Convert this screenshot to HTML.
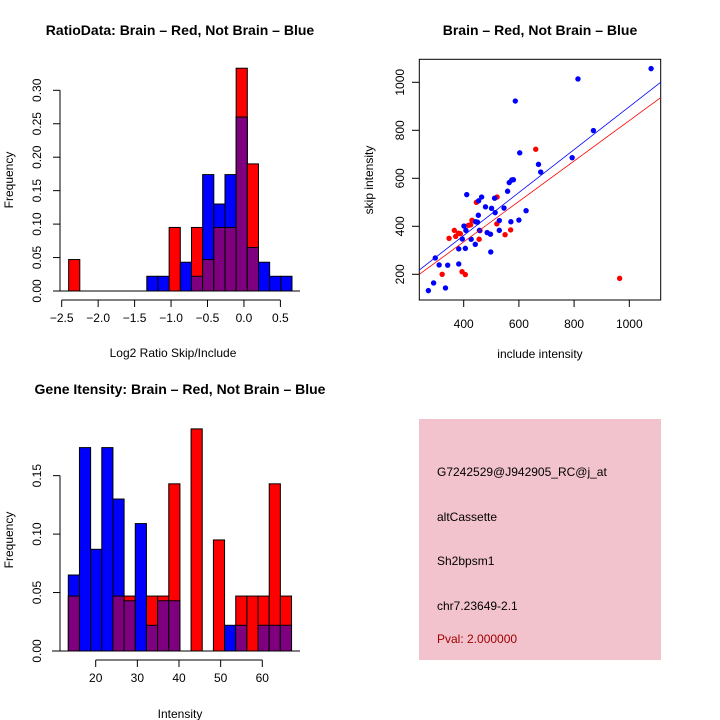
<!DOCTYPE html>
<html><head><meta charset="utf-8"><style>
body{margin:0;background:#fff}
svg{display:block;font-family:"Liberation Sans",sans-serif}
</style></head><body>
<svg id="s" width="720" height="720" viewBox="0 0 720 720">
<rect width="720" height="720" fill="#fff"/>
<text x="180" y="35" text-anchor="middle" font-weight="bold" font-size="14">RatioData: Brain – Red, Not Brain – Blue</text>
<text x="540" y="35" text-anchor="middle" font-weight="bold" font-size="14">Brain – Red, Not Brain – Blue</text>
<text x="180" y="394" text-anchor="middle" font-weight="bold" font-size="14">Gene Itensity: Brain – Red, Not Brain – Blue</text>
<text x="173" y="357" text-anchor="middle" font-size="12">Log2 Ratio Skip/Include</text>
<text transform="translate(13,180) rotate(-90)" text-anchor="middle" font-size="12">Frequency</text>
<text x="180" y="718" text-anchor="middle" font-size="12">Intensity</text>
<text transform="translate(13,540) rotate(-90)" text-anchor="middle" font-size="12">Frequency</text>
<text x="540" y="358" text-anchor="middle" font-size="12">include intensity</text>
<text transform="translate(373,180) rotate(-90)" text-anchor="middle" font-size="12">skip intensity</text>
<g>
<rect x="419" y="419" width="242" height="241" fill="#f2c2cd"/>
<text x="437" y="476" font-size="12">G7242529@J942905_RC@j_at</text>
<text x="437" y="521" font-size="12">altCassette</text>
<text x="437" y="565" font-size="12">Sh2bpsm1</text>
<text x="437" y="610" font-size="12">chr7.23649-2.1</text>
<text x="437" y="643" font-size="12" fill="#a00000">Pval: 2.000000</text>
</g>
</svg>
<script>
const ratioStart=-2.405, ratioBinW=0.1532;
const ratioRed=[0.047,0,0,0,0,0,0,0,0,0.095,0,0.095,0.047,0.095,0.095,0.333,0.19,0,0,0];
const ratioBlue=[0,0,0,0,0,0,0,0.022,0.022,0,0.043,0.022,0.174,0.130,0.174,0.26,0.065,0.043,0.022,0.022];
const ratioXTicks=[-2.5,-2.0,-1.5,-1.0,-0.5,0.0,0.5];
const ratioXLabels=["-2.5","-2.0","-1.5","-1.0","-0.5","0.0","0.5"];
const ratioYTicks=[0,0.05,0.10,0.15,0.20,0.25,0.30];
const ratioYLabels=["0.00","0.05","0.10","0.15","0.20","0.25","0.30"];

const intStart=13.42, intBinW=2.68;
const intRed=[0.047,0,0,0,0.047,0.047,0,0.047,0.047,0.143,0,0.19,0,0.095,0,0.047,0.047,0.047,0.143,0.047];
const intBlue=[0.065,0.174,0.087,0.174,0.130,0.043,0.109,0.022,0.043,0.043,0,0,0,0,0.022,0.022,0,0.022,0.022,0.022];
const intXTicks=[20,30,40,50,60];
const intYTicks=[0,0.05,0.10,0.15];
const intYLabels=["0.00","0.05","0.10","0.15"];

const blueX=[272,291,297,311,334,342,382,382,395,401,406,408,411,427,442,443,450,453,454,457,465,479,485,497,498,501,512,514,529,529,546,559,565,574,580,571,587,600,603,626,671,679,793,814,870,1079];
const blueY=[132,164,268,239,143,238,243,306,347,401,308,383,532,346,325,419,417,446,506,383,522,481,374,367,293,475,517,457,424,383,476,546,582,593,594,419,922,426,706,465,658,626,686,1014,799,1057];
const redX=[322,347,366,371,381,388,394,406,417,425,430,446,456,521,520,550,570,661,965,459];
const redY=[200,350,383,358,371,369,211,199,404,406,425,500,346,522,410,365,385,721,183,382];
const blueFit=[3.8,0.8947];
const redFit=[-1.6,0.842];
const scatXTicks=[400,600,800,1000];
const scatYTicks=[200,400,600,800,1000];

const NS="http://www.w3.org/2000/svg";
const svg=document.getElementById('s');
function mk(tag,attrs,parent){const e=document.createElementNS(NS,tag);for(const k in attrs)e.setAttribute(k,attrs[k]);(parent||svg).appendChild(e);return e;}

function hist(name,start,bw,red,blue,sx,sy,xt,xl,yt,yl,xAxisY,baseL){
  const g=mk('g',{});
  
  
  for(let i=0;i<red.length;i++){
    const x0=sx(start+i*bw),x1=sx(start+(i+1)*bw);
    const r=red[i],b=blue[i];
    const hi=Math.max(r,b),lo=Math.min(r,b);
    if(hi<=0)continue;
    const big=mk('rect',{x:x0,y:sy(hi),width:x1-x0,height:sy(0)-sy(hi),fill:r>=b?'#ff0000':'#0000ff',stroke:'#000','stroke-width':1},g);
    
    
    if(lo>0){
      const p=mk('rect',{x:x0,y:sy(lo),width:x1-x0,height:sy(0)-sy(lo),fill:'#7f007f',stroke:'#000','stroke-width':1},g);
      
      
    }
  }
  mk('line',{x1:baseL,x2:300,y1:sy(0),y2:sy(0),stroke:'#000'},g);
  const xa=mk('g',{},g);
  
  
  mk('line',{x1:sx(xt[0]),x2:sx(xt[xt.length-1]),y1:xAxisY,y2:xAxisY,stroke:'#000'},xa);
  xt.forEach((v,i)=>{mk('line',{x1:sx(v),x2:sx(v),y1:xAxisY,y2:xAxisY+7,stroke:'#000'},xa);
    const t=mk('text',{x:sx(v),y:xAxisY+22,'text-anchor':'middle','font-size':12},xa);t.textContent=xl[i].replace('-','\u2212');});
  const ya=mk('g',{},g);
  
  
  mk('line',{x1:60,x2:60,y1:sy(yt[0]),y2:sy(yt[yt.length-1]),stroke:'#000'},ya);
  yt.forEach((v,i)=>{mk('line',{x1:53,x2:60,y1:sy(v),y2:sy(v),stroke:'#000'},ya);
    const t=mk('text',{transform:`translate(41,${sy(v)}) rotate(-90)`,'text-anchor':'middle','font-size':12},ya);t.textContent=yl[i];});
}
hist('ratio',ratioStart,ratioBinW,ratioRed,ratioBlue,v=>61.7+(v+2.5)*72.9,v=>291-v*669,ratioXTicks,ratioXLabels,ratioYTicks,ratioYLabels,300,60);
hist('intensity',intStart,intBinW,intRed,intBlue,v=>95.7+(v-20)*4.165,v=>651-v*1169,intXTicks,intXTicks.map(String),intYTicks,intYLabels,660,52);

const SX=v=>463.7+(v-400)*0.276, SY=v=>274.3-(v-200)*0.24;
const sg=mk('g',{});


mk('rect',{x:419.3,y:59.3,width:241.4,height:240.7,fill:'none',stroke:'#000'},sg);
redX.forEach((x,i)=>{const c=mk('circle',{cx:SX(x),cy:SY(redY[i]),r:2.7,fill:'#ff0000'},sg);
  
  });
blueX.forEach((x,i)=>{const c=mk('circle',{cx:SX(x),cy:SY(blueY[i]),r:2.7,fill:'#0000ff'},sg);
  
  });
const xl0=239.4,xl1=1113.5;
[[blueFit,'#0000ff','blue-fit-line'],[redFit,'#ff0000','red-fit-line']].forEach(([f,c,n])=>{
  const l=mk('line',{x1:SX(xl0),y1:SY(f[0]+f[1]*xl0),x2:SX(xl1),y2:SY(f[0]+f[1]*xl1),stroke:c,'stroke-width':0.8},sg);
  
  
});
const sxa=mk('g',{},sg);


scatXTicks.forEach(v=>{mk('line',{x1:SX(v),x2:SX(v),y1:300,y2:307,stroke:'#000'},sxa);
  const t=mk('text',{x:SX(v),y:328,'text-anchor':'middle','font-size':12},sxa);t.textContent=v;});
const sya=mk('g',{},sg);


scatYTicks.forEach(v=>{mk('line',{x1:412,x2:419.3,y1:SY(v),y2:SY(v),stroke:'#000'},sya);
  const t=mk('text',{transform:`translate(404,${SY(v)}) rotate(-90)`,'text-anchor':'middle','font-size':12},sya);t.textContent=v;});
</script>
</body></html>
